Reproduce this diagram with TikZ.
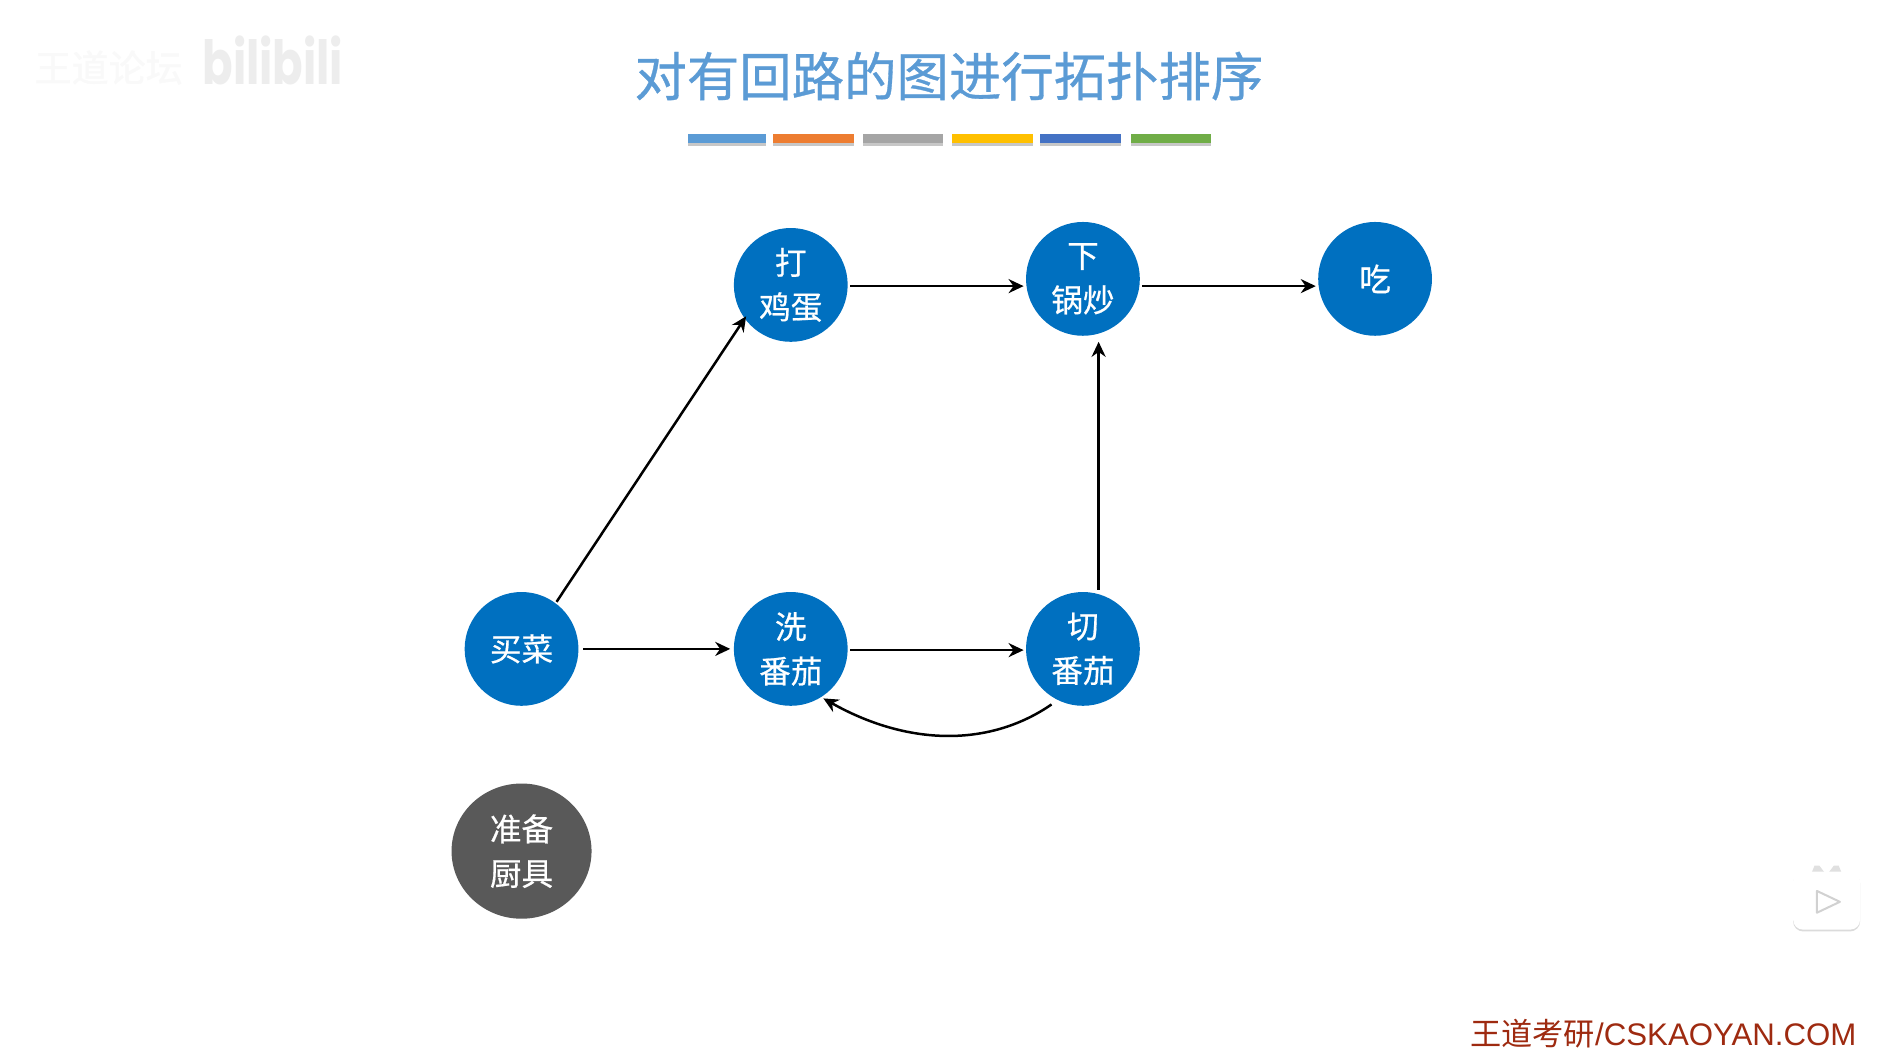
\documentclass[tikz,border=0pt]{standalone}
\usepackage{fontspec}
\setmainfont{Liberation Sans}
\newfontfamily\cjk{Noto Sans CJK SC}
\newfontfamily\cjkb[FakeBold=0.6]{Noto Sans CJK SC}
\newfontfamily\popfont{Poppins}
\usetikzlibrary{shapes.geometric,arrows.meta}
\definecolor{titleblue}{HTML}{5B9BD5}
\definecolor{nodeblue}{HTML}{0070C0}
\definecolor{nodegray}{HTML}{595959}
\definecolor{barorange}{HTML}{ED7D31}
\definecolor{bargray}{HTML}{A5A5A5}
\definecolor{baryellow}{HTML}{FFC000}
\definecolor{barblue}{HTML}{4472C4}
\definecolor{bargreen}{HTML}{70AD47}
\definecolor{siteRed}{HTML}{9E2A10}
\newcommand{\liftline}[1]{\raisebox{0.9pt}{#1}}
\tikzset{
  x=0.6036pt,y=-0.6036pt,
  vertex/.style={circle,fill=nodeblue,text=white,minimum size=56.9pt,inner sep=0pt,outer sep=0pt,align=center,
    font=\cjkb\fontsize{15.8}{22.2}\selectfont},
  extra/.style={ellipse,fill=nodegray,text=white,minimum width=70pt,minimum height=67.6pt,inner sep=0pt,outer sep=0pt,align=center,
    font=\cjkb\fontsize{15.8}{22.2}\selectfont},
  link/.style={draw=black,line width=1.25pt,-{Stealth[length=7.5pt,width=7pt]}},
  colorbar/.style={minimum width=#1*0.6036pt,minimum height=4.6pt,inner sep=0pt,outer sep=0pt},
  barshadow/.style={fill=black!22,minimum width=#1*0.6036pt,minimum height=4.6pt,inner sep=0pt,outer sep=0pt},
}
\begin{document}
\begin{tikzpicture}
\useasboundingbox[fill=white] (0,0) rectangle (1568,876.3);

% faint watermarks
\node[text=black!2.5,inner sep=0pt,font=\cjkb\fontsize{18.5}{20}\selectfont] (wm) at (90,56) {王道论坛};
\node[text=black!7,inner sep=0pt,yscale=1.35,font=\popfont\bfseries\fontsize{22.5}{24}\selectfont] (bili) at (226,50) {bilibili};

% title and coloured bars
\node[text=titleblue,inner sep=0pt,font=\cjkb\fontsize{26.2}{30}\selectfont] (title) at (786,63) {对有回路的图进行拓扑排序};
\foreach \nm/\xc/\barw/\barc in {a/602/65/titleblue,b/674/67/barorange,c/748/67/bargray,d/822/67/baryellow,e/895/67/barblue,f/970/66/bargreen}{
  \node[barshadow=\barw] (s\nm) at (\xc,117) {};
  \node[colorbar=\barw,fill=\barc] (b\nm) at (\xc,115) {};
}

% vertices
\node[vertex] (egg)  at (655,236) {\liftline{打}\\\liftline{鸡蛋}};
\node[vertex] (cook) at (897,231) {\liftline{下}\\\liftline{锅炒}};
\node[vertex] (eat)  at (1139,231) {吃};
\node[vertex] (buy)  at (432,537.5) {买菜};
\node[vertex] (wash) at (655,537.5) {\liftline{洗}\\\liftline{番茄}};
\node[vertex] (cut)  at (897,537.5) {\liftline{切}\\\liftline{番茄}};
\node[extra]  (tool) at (432,705) {准备\\厨具};

% connectors
\draw[link] ([shift={(29,-39)}]buy.center) -- ([shift={(-37,26)}]egg.center);
\draw[link] ([shift={(2,1)}]egg.east) -- ([shift={(-2,6)}]cook.west);
\draw[link] ([shift={(2,6)}]cook.east) -- ([shift={(-2,6)}]eat.west);
\draw[link] ([shift={(4,0)}]buy.east) -- ([shift={(-3,0)}]wash.west);
\draw[link] ([shift={(2,1)}]wash.east) -- ([shift={(-2,1)}]cut.west);
\draw[link] ([shift={(13,-2)}]cut.north) -- ([shift={(13,5)}]cook.south);
\draw[link] ([shift={(-26,46)}]cut.center) .. controls (818,620) and (750,617) .. ([shift={(27,41)}]wash.center);

% footer text
\node[text=siteRed,inner sep=0pt,anchor=east,font=\fontsize{15.6}{18}\selectfont] (site) at (1538,856) {{\cjk 王道考研}/CSKAOYAN.COM};

% player icon
\fill[black!12] (1499,727) -- (1503,717) -- (1507,717) -- (1513,725) -- (1519,717) -- (1523,717) -- (1527,727) -- cycle;
\node[fill=black!14,rounded corners=5pt,minimum width=33.5pt,minimum height=29pt,inner sep=0pt] (tvs) at (1513,747.5) {};
\node[fill=white,rounded corners=5pt,minimum width=33.5pt,minimum height=29pt,inner sep=0pt] (tv) at (1513,746) {};
\draw[black!18,line width=1pt,line join=round,fill=white] (1505,738) -- (1524,747) -- (1505,756) -- cycle;
\end{tikzpicture}
\end{document}
